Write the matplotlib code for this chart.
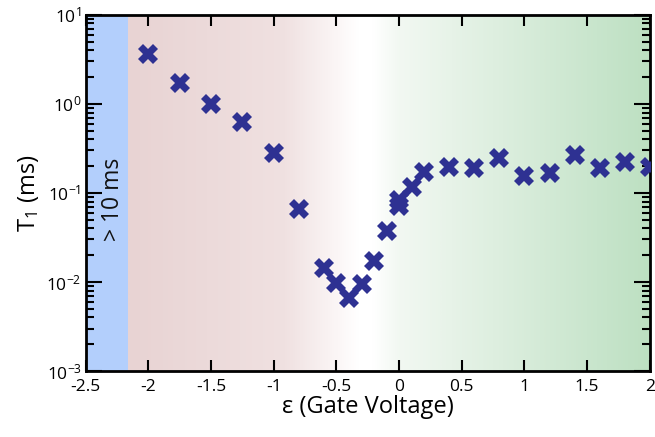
import numpy as np
import matplotlib.pyplot as plt
from matplotlib.colors import LinearSegmentedColormap

plt.rcParams['font.family'] = ['Open Sans', 'DejaVu Sans']
plt.rcParams['mathtext.default'] = 'regular'

# gate voltage (epsilon) and T1 in ms
eps = [-2.0, -1.75, -1.5, -1.25, -1.0, -0.8, -0.6, -0.5, -0.4, -0.3, -0.2, -0.1,
       0.0, 0.0, 0.1, 0.2, 0.4, 0.6, 0.8, 1.0, 1.2, 1.4, 1.6, 1.8, 2.0]
t1 = [3.6, 1.72, 1.0, 0.62, 0.28, 0.066, 0.0145, 0.0097, 0.0066, 0.0095, 0.017, 0.037,
      0.083, 0.072, 0.118, 0.17, 0.198, 0.19, 0.25, 0.156, 0.166, 0.265, 0.192, 0.225, 0.198]

band_edge = -2.16  # left of this: T1 > 10 ms

fig = plt.figure(figsize=(6.55, 4.37), dpi=100)
ax = fig.add_axes([0.131, 0.151, 0.861, 0.815])
ax.set_yscale('log')
ax.set_xlim(-2.5, 2)
ax.set_ylim(1e-3, 1e1)

# background: blue band + red->white->green gradient
ax.axvspan(-2.5, band_edge, color='#b3cffc', lw=0, zorder=0)
cmap = LinearSegmentedColormap.from_list('bg', [
    (0.0, '#e8d3d3'),
    (0.3, '#f0e1e1'),
    (0.41, '#fcf8f8'),
    (0.44, '#ffffff'),
    (0.47, '#ffffff'),
    (0.52, '#f2f8f2'),
    (1.0, '#bde0c2')])
x0 = (band_edge + 2.5) / 4.5
grad = np.linspace(0, 1, 512).reshape(1, -1)
ax.imshow(grad, cmap=cmap, aspect='auto', extent=(x0, 1, 0, 1),
          transform=ax.transAxes, zorder=0, interpolation='bilinear')

ax.text(-2.28, 0.085, '> 10 ms', rotation=90, ha='center', va='center',
        fontsize=16.5, color='#111111')

ax.plot(eps, t1, linestyle='none', marker='X', ms=14, color='#2e3192',
        markeredgewidth=0, zorder=3)

ax.set_xticks([-2.5, -2, -1.5, -1, -0.5, 0, 0.5, 1, 1.5, 2])
ax.set_xticklabels(['-2.5', '-2', '-1.5', '-1', '-0.5', '0', '0.5', '1', '1.5', '2'])
ax.set_yticks([1e-3, 1e-2, 1e-1, 1e0, 1e1])
ax.set_yticklabels(['10$^{-3}$', '10$^{-2}$', '10$^{-1}$', '10$^{0}$', '10$^{1}$'])
ax.tick_params(axis='both', which='both', direction='in', top=True, right=True,
               width=1.5, labelsize=12.5, colors='black')
ax.tick_params(axis='x', which='major', length=8, pad=6)
ax.tick_params(axis='y', which='major', length=11.5, pad=3)
ax.tick_params(axis='y', which='minor', length=6)
ax.tick_params(axis='x', which='minor', bottom=False, top=False)
for s in ax.spines.values():
    s.set_linewidth(2)

ax.set_xlabel('ε (Gate Voltage)', fontsize=17, labelpad=0)
ax.set_ylabel('T$_1$ (ms)', fontsize=17, labelpad=4)

fig.savefig('out.png')
